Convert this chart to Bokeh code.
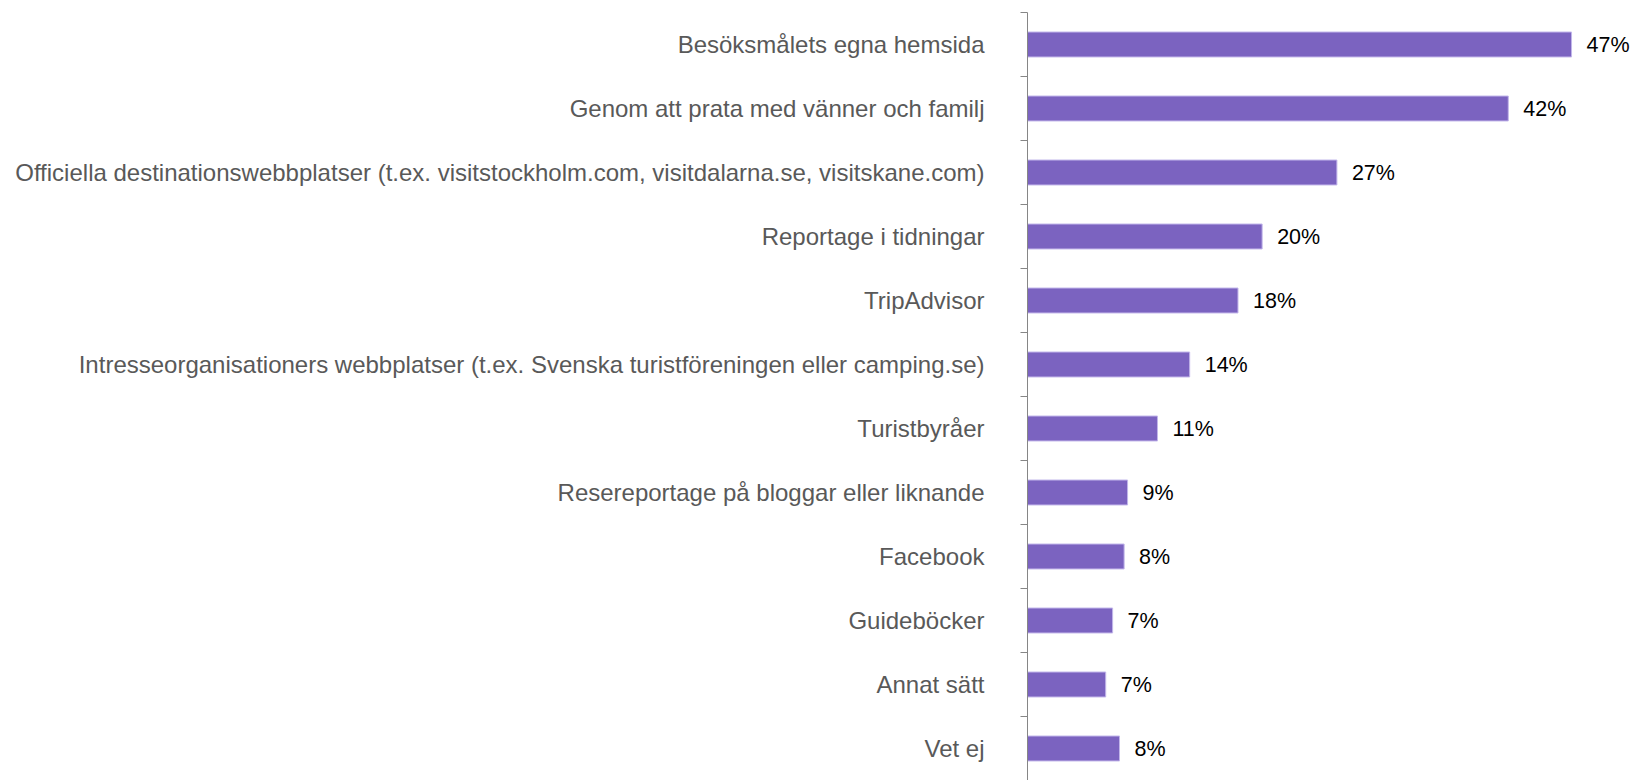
from bokeh.plotting import figure
from bokeh.models import (Range1d, LinearAxis, FixedTicker, CustomJSTickFormatter,
                          ColumnDataSource)
from bokeh.core.properties import value
from bokeh.embed import file_html
from bokeh.resources import INLINE

categories = [
    "Besöksmålets egna hemsida",
    "Genom att prata med vänner och familj",
    "Officiella destinationswebbplatser (t.ex. visitstockholm.com, visitdalarna.se, visitskane.com)",
    "Reportage i tidningar",
    "TripAdvisor",
    "Intresseorganisationers webbplatser (t.ex. Svenska turistföreningen eller camping.se)",
    "Turistbyråer",
    "Resereportage på bloggar eller liknande",
    "Facebook",
    "Guideböcker",
    "Annat sätt",
    "Vet ej",
]
values = [47.3, 41.8, 26.9, 20.4, 18.3, 14.1, 11.3, 8.7, 8.4, 7.4, 6.8, 8.0]
labels = [f"{round(v)}%" for v in values]

FONT = "Liberation Sans"
n = len(categories)
centers = [i + 0.5 for i in range(n)]

p = figure(
    width=1632, height=780,
    y_range=Range1d(n, 0),
    x_range=Range1d(0, 52.6),
    x_axis_location=None, y_axis_location=None,
    toolbar_location=None, output_backend="svg",
    min_border_left=1027, min_border_right=0, min_border_top=12, min_border_bottom=0,
)
p.outline_line_color = None
p.grid.visible = False
p.background_fill_color = "white"
p.border_fill_color = "white"

src = ColumnDataSource(dict(y=centers, val=values, lab=labels))
p.hbar(y="y", right="val", left=0, height=0.39, source=src,
       fill_color="#7B63C0", line_color="#C2B6EA", line_width=1)
p.text(x="val", y="y", text="lab", source=src, x_offset=15,
       text_baseline="middle", text_align="left",
       text_font=value(FONT), text_font_size="21.5px", text_color="#000000")

# boundary ticks axis (closest to frame)
tick_axis = LinearAxis(ticker=FixedTicker(ticks=list(range(n + 1))),
                       formatter=CustomJSTickFormatter(code="return ''"))
tick_axis.axis_line_color = "#868686"
tick_axis.major_tick_line_color = "#868686"
tick_axis.major_tick_out = 7
tick_axis.major_tick_in = 0
tick_axis.minor_tick_line_color = None
tick_axis.major_label_standoff = 0
tick_axis.major_label_text_font_size = "1px"
p.add_layout(tick_axis, "left")

label_axis = LinearAxis(ticker=FixedTicker(ticks=centers, minor_ticks=[]),
                        major_label_overrides={c: name for c, name in zip(centers, categories)})
label_axis.axis_line_color = None
label_axis.major_tick_line_color = None
label_axis.minor_tick_line_color = None
label_axis.major_label_standoff = 30
label_axis.major_label_text_font = FONT
label_axis.major_label_text_font_size = "24px"
label_axis.major_label_text_color = "#595959"
p.add_layout(label_axis, "left")

open("out.html", "w").write(file_html(p, INLINE))
